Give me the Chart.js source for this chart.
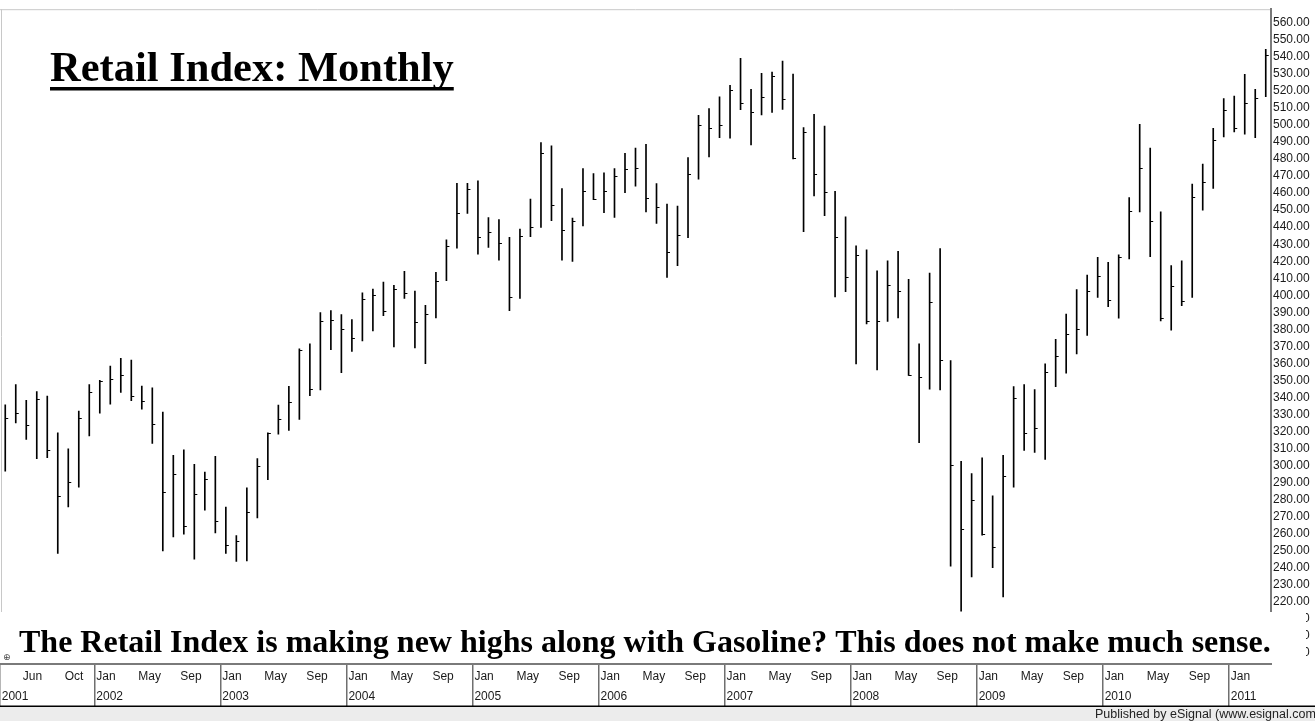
<!DOCTYPE html>
<html>
<head>
<meta charset="utf-8">
<script src="https://cdn.jsdelivr.net/npm/chart.js@4.4.1/dist/chart.umd.min.js"></script>
<style>
  html, body { margin: 0; padding: 0; background: #fff; }
  #wrap { width: 1315px; height: 721px; }
</style>
</head>
<body>
<div id="wrap"><canvas id="retail-canvas" width="1315" height="721"></canvas></div>
<script>
(function() {
    'use strict';

    // monthly bars, Apr 2001 - Apr 2011
    var months = [
        'Apr 2001','May 2001','Jun 2001','Jul 2001','Aug 2001','Sep 2001','Oct 2001','Nov 2001','Dec 2001',
        'Jan 2002','Feb 2002','Mar 2002','Apr 2002','May 2002','Jun 2002','Jul 2002','Aug 2002','Sep 2002','Oct 2002','Nov 2002','Dec 2002',
        'Jan 2003','Feb 2003','Mar 2003','Apr 2003','May 2003','Jun 2003','Jul 2003','Aug 2003','Sep 2003','Oct 2003','Nov 2003','Dec 2003',
        'Jan 2004','Feb 2004','Mar 2004','Apr 2004','May 2004','Jun 2004','Jul 2004','Aug 2004','Sep 2004','Oct 2004','Nov 2004','Dec 2004',
        'Jan 2005','Feb 2005','Mar 2005','Apr 2005','May 2005','Jun 2005','Jul 2005','Aug 2005','Sep 2005','Oct 2005','Nov 2005','Dec 2005',
        'Jan 2006','Feb 2006','Mar 2006','Apr 2006','May 2006','Jun 2006','Jul 2006','Aug 2006','Sep 2006','Oct 2006','Nov 2006','Dec 2006',
        'Jan 2007','Feb 2007','Mar 2007','Apr 2007','May 2007','Jun 2007','Jul 2007','Aug 2007','Sep 2007','Oct 2007','Nov 2007','Dec 2007',
        'Jan 2008','Feb 2008','Mar 2008','Apr 2008','May 2008','Jun 2008','Jul 2008','Aug 2008','Sep 2008','Oct 2008','Nov 2008','Dec 2008',
        'Jan 2009','Feb 2009','Mar 2009','Apr 2009','May 2009','Jun 2009','Jul 2009','Aug 2009','Sep 2009','Oct 2009','Nov 2009','Dec 2009',
        'Jan 2010','Feb 2010','Mar 2010','Apr 2010','May 2010','Jun 2010','Jul 2010','Aug 2010','Sep 2010','Oct 2010','Nov 2010','Dec 2010',
        'Jan 2011','Feb 2011','Mar 2011','Apr 2011'
    ];

    var highs = [
        335.7, 347.6, 338.4, 343.5, 340.8, 319.3, 309.9, 332.0, 347.6,
        350.0, 358.5, 363.0, 362.0, 346.7, 345.7, 331.4, 306.0, 309.3, 300.7, 296.2, 305.4,
        275.7, 258.9, 286.9, 304.1, 319.3, 335.5, 346.5, 368.5, 371.5, 389.8, 391.0, 388.7,
        385.7, 401.4, 403.7, 407.8, 405.9, 414.1, 402.5, 394.1, 413.5, 432.6, 465.8, 465.8,
        467.2, 445.7, 444.5, 434.0, 438.9, 456.5, 489.7, 487.7, 462.7, 445.3, 474.4, 471.5,
        471.9, 474.4, 483.4, 486.4, 488.7, 465.6, 453.5, 452.4, 480.9, 505.7, 509.6, 516.6,
        523.3, 539.1, 520.9, 530.3, 531.1, 537.5, 529.9, 498.5, 506.3, 499.4, 461.0, 446.1,
        429.1, 426.7, 414.4, 420.3, 425.8, 409.4, 371.5, 413.1, 427.5, 361.7, 302.5, 295.3,
        304.6, 282.2, 306.0, 346.4, 347.6, 344.7, 359.7, 374.2, 389.0, 403.3, 411.9, 422.3,
        419.3, 423.8, 457.4, 500.4, 486.5, 449.0, 417.4, 420.3, 465.3, 477.0, 498.1, 515.5,
        517.0, 529.7, 520.9, 544.4
    ];

    var lows = [
        296.8, 325.0, 315.4, 304.1, 304.6, 248.4, 275.7, 287.4, 317.5,
        330.8, 336.1, 343.0, 338.1, 333.2, 313.0, 249.9, 258.1, 259.7, 245.0, 273.8, 260.5,
        248.4, 243.7, 244.1, 269.3, 291.7, 318.5, 320.7, 327.1, 341.0, 344.5, 368.1, 354.5,
        367.0, 373.2, 379.1, 388.1, 369.7, 398.2, 369.1, 359.8, 386.7, 408.6, 427.7, 448.1,
        424.2, 428.1, 420.7, 391.0, 398.2, 434.4, 439.8, 443.8, 420.7, 419.9, 440.8, 456.1,
        448.5, 445.7, 460.2, 464.1, 449.0, 442.2, 410.5, 417.4, 433.9, 468.2, 481.3, 492.6,
        492.2, 509.0, 488.3, 505.9, 507.4, 509.2, 480.1, 437.3, 458.4, 446.7, 399.0, 402.1,
        359.7, 383.2, 356.2, 384.7, 386.7, 352.9, 313.4, 344.9, 344.5, 240.9, 214.5, 234.7,
        259.1, 240.1, 222.9, 287.4, 308.9, 307.8, 303.7, 346.4, 354.3, 365.6, 376.5, 398.8,
        393.3, 386.5, 421.3, 449.0, 422.7, 385.0, 379.5, 393.9, 398.8, 450.0, 462.7, 493.0,
        495.9, 494.6, 492.6, 516.6
    ];

    var closes = [
        328.1, 331.0, 323.8, 339.2, 309.3, 282.4, 290.6, 328.1, 343.3,
        349.8, 351.0, 353.3, 340.6, 338.2, 324.6, 284.3, 294.9, 264.6, 283.1, 292.0, 267.5,
        253.1, 255.8, 272.8, 299.8, 318.9, 327.3, 337.5, 368.1, 344.7, 384.9, 385.5, 380.5,
        375.2, 397.7, 400.2, 390.8, 403.5, 401.2, 384.2, 389.0, 408.2, 428.9, 448.3, 462.7,
        434.0, 437.1, 430.9, 399.2, 434.6, 440.4, 483.8, 453.3, 438.3, 443.6, 461.4, 456.8,
        461.4, 470.1, 474.2, 474.6, 457.4, 451.6, 425.2, 435.3, 471.5, 500.2, 498.3, 499.8,
        520.6, 512.7, 507.6, 516.4, 529.0, 515.1, 480.5, 496.1, 471.5, 460.8, 434.0, 410.5,
        423.8, 385.1, 385.1, 406.2, 402.3, 353.3, 351.9, 396.1, 362.3, 300.5, 263.0, 279.6,
        260.1, 252.3, 293.7, 339.8, 319.1, 322.2, 354.8, 364.6, 377.3, 380.1, 402.3, 411.5,
        397.4, 422.3, 449.6, 475.0, 443.4, 386.5, 405.3, 396.8, 457.8, 466.6, 491.0, 509.0,
        498.3, 512.7, 515.7, 541.0
    ];

    // labelled months on the time axis (Jan ones also carry the year)
    var xTickLabels = [
        'Jun 2001','Oct 2001',
        'Jan 2002','May 2002','Sep 2002','Jan 2003','May 2003','Sep 2003',
        'Jan 2004','May 2004','Sep 2004','Jan 2005','May 2005','Sep 2005',
        'Jan 2006','May 2006','Sep 2006','Jan 2007','May 2007','Sep 2007',
        'Jan 2008','May 2008','Sep 2008','Jan 2009','May 2009','Sep 2009',
        'Jan 2010','May 2010','Sep 2010','Jan 2011'
    ];
    var firstYear = '2001';

    var chartTitle = 'Retail Index: Monthly';
    var chartNote = 'The Retail Index is making new highs along with Gasoline? This does not make much sense.';
    var footerText = 'Published by eSignal (www.esignal.com)';

    function tickText(index) {
        var m = months[index];
        if (xTickLabels.indexOf(m) >= 0) {
            var parts = m.split(' ');
            return parts[0] == 'Jan' ? [parts[0], parts[1]] : parts[0];
        }
        if (index === 0) {
            return ['', firstYear];
        }
        return '';
    }

    function isYearLine(index) {
        return index === 0 || (months[index].indexOf('Jan') === 0 && xTickLabels.indexOf(months[index]) >= 0);
    }

    var retailPlugin = {
        id: 'retailPlugin',
        beforeDraw: function(chart) {
            var ctx = chart.ctx;
            var area = chart.chartArea;
            ctx.save();
            ctx.fillStyle = '#ffffff';
            ctx.fillRect(0, 0, chart.width, chart.height);
            ctx.strokeStyle = '#c8c8c8';
            ctx.lineWidth = 1;
            ctx.beginPath();
            ctx.moveTo(0, area.top + 0.5);
            ctx.lineTo(area.right, area.top + 0.5);
            ctx.moveTo(1.5, area.top);
            ctx.lineTo(1.5, area.bottom);
            ctx.stroke();
            ctx.restore();
        },
        afterDatasetsDraw: function(chart) {
            // close ticks to the right of each bar
            var ctx = chart.ctx;
            var xs = chart.scales.x;
            var ys = chart.scales.y;
            ctx.save();
            ctx.strokeStyle = '#000';
            ctx.lineWidth = 1;
            ctx.beginPath();
            for (var i = 0; i < closes.length; i++) {
                var x = xs.getPixelForValue(i);
                var y = Math.round(ys.getPixelForValue(closes[i])) + 0.5;
                ctx.moveTo(x, y);
                ctx.lineTo(x + 3, y);
            }
            ctx.stroke();
            ctx.restore();
        },
        afterDraw: function(chart) {
            var ctx = chart.ctx;
            var area = chart.chartArea;
            ctx.save();

            // white box behind the note (it hides the lowest price labels)
            ctx.fillStyle = '#ffffff';
            ctx.fillRect(0, 612, 1306, area.bottom - 613);

            ctx.fillStyle = '#000';
            ctx.textBaseline = 'alphabetic';
            ctx.textAlign = 'left';
            ctx.font = 'bold 32px "Liberation Serif", "Times New Roman", serif';
            ctx.fillText(chartNote, 19, 652);

            ctx.font = '9px "DejaVu Sans", sans-serif';
            ctx.fillStyle = '#444';
            ctx.fillText('\u2295', 3, 660);

            // title
            ctx.fillStyle = '#000';
            ctx.font = 'bold 42.5px "Liberation Serif", "Times New Roman", serif';
            ctx.fillText(chartTitle, 50, 81);
            var tw = ctx.measureText(chartTitle).width;
            ctx.fillRect(50, 87, tw, 3.5);

            // footer band
            ctx.fillStyle = '#ececec';
            ctx.fillRect(0, 707, chart.width, chart.height - 707);
            ctx.fillStyle = '#000';
            ctx.fillRect(0, 705.5, chart.width, 1.5);
            ctx.fillStyle = '#222';
            ctx.font = '12.5px "Liberation Sans", Arial, sans-serif';
            ctx.textAlign = 'right';
            ctx.fillText(footerText, 1320, 718);
            ctx.restore();
        }
    };

    var ctx = document.getElementById('retail-canvas').getContext('2d');
    var retailChart = new Chart(ctx, {
        type: 'bar',
        data: {
            labels: months,
            datasets: [{
                data: lows.map(function(l, i) { return [l, highs[i]]; }),
                backgroundColor: '#000',
                borderWidth: 0,
                barThickness: 1
            }]
        },
        options: {
            responsive: false,
            animation: false,
            layout: { padding: { top: 8, bottom: 15, left: 0, right: 0 } },
            plugins: {
                legend: { display: false },
                tooltip: { enabled: false },
                title: { display: false }
            },
            scales: {
                x: {
                    type: 'category',
                    offset: true,
                    border: { display: true, color: '#7a7a7a', width: 2 },
                    grid: {
                        offset: true,
                        drawOnChartArea: false,
                        drawTicks: true,
                        tickLength: 42,
                        lineWidth: 1.5,
                        color: function(c) {
                            return (c.tick && isYearLine(c.tick.value)) ? '#6f6f6f' : 'rgba(0,0,0,0)';
                        }
                    },
                    ticks: {
                        autoSkip: false,
                        maxRotation: 0,
                        minRotation: 0,
                        align: 'start',
                        labelOffset: -3.5,
                        padding: -39,
                        color: '#1a1a1a',
                        font: { family: '"Liberation Sans", Arial, sans-serif', size: 12, lineHeight: '20px' },
                        callback: function(value, index) { return tickText(index); }
                    },
                    afterFit: function(scale) { scale.height = 42; }
                },
                y: {
                    position: 'right',
                    min: 183.5,
                    max: 568,
                    border: { display: true, color: '#7a7a7a', width: 2 },
                    grid: { display: false, drawTicks: false },
                    ticks: {
                        stepSize: 10,
                        includeBounds: false,
                        padding: 2,
                        color: '#1a1a1a',
                        font: { family: '"Liberation Sans", Arial, sans-serif', size: 12 },
                        callback: function(v) { return v.toFixed(2); }
                    },
                    afterFit: function(scale) { scale.width = 44; }
                }
            }
        },
        plugins: [retailPlugin]
    });
})();
</script>
</body>
</html>
